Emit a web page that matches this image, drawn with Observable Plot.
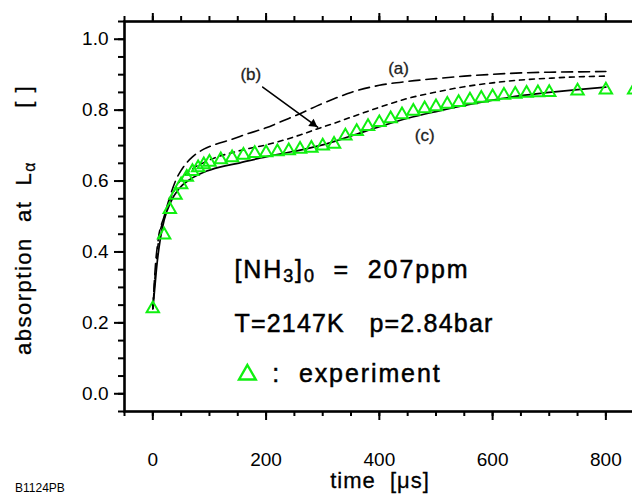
<!DOCTYPE html>
<html><head><meta charset="utf-8">
<script src="https://cdn.jsdelivr.net/npm/d3@7"></script>
<script src="https://cdn.jsdelivr.net/npm/@observablehq/plot@0.6"></script>
<style>
html,body{margin:0;padding:0;background:#fff;overflow:hidden;width:632px;height:494px;}
#chart{position:relative;width:632px;height:494px;overflow:hidden;}
#chart svg{max-width:none !important;width:680px;height:494px;display:block;}
svg text{white-space:pre;}
</style></head><body><div id="chart"></div>
<script>
// experiment (triangles)
const expTime = [0,20,30,40,50,60,70,80,90,100,120,140,160,180,200,220,240,260,280,300,320,340,360,380,400,420,440,460,480,500,520,540,560,580,600,620,640,660,680,700,750,800,850];
const expAbs  = [0.24,0.448,0.52,0.56,0.59,0.611,0.627,0.638,0.646,0.653,0.66,0.666,0.673,0.678,0.68,0.683,0.686,0.69,0.693,0.699,0.704,0.727,0.74,0.754,0.765,0.776,0.787,0.797,0.804,0.81,0.817,0.822,0.829,0.834,0.838,0.842,0.845,0.848,0.849,0.85,0.854,0.857,0.857];
// model (a) long dashes
const aTime = [0,5,10,20,30,40,50,60,70,90,110,140,170,200,230,260,290,320,350,400,450,500,550,600,650,700,750,800];
const aAbs  = [0.24,0.37,0.44,0.50,0.555,0.60,0.63,0.652,0.668,0.69,0.703,0.718,0.735,0.75,0.77,0.79,0.812,0.832,0.85,0.87,0.881,0.889,0.896,0.901,0.905,0.907,0.908,0.909];
// model (b) short dashes
const bTime = [0,5,10,20,30,40,50,60,75,90,110,140,170,200,230,260,290,320,350,400,450,500,550,600,650,700,750,800];
const bAbs  = [0.24,0.35,0.43,0.495,0.545,0.58,0.605,0.622,0.64,0.652,0.666,0.68,0.692,0.702,0.715,0.73,0.747,0.763,0.78,0.808,0.833,0.851,0.866,0.877,0.885,0.89,0.894,0.896];
// model (c) solid
const cTime = [0,3,7,13,20,32,46,67,90,120,150,190,250,300,350,400,450,500,550,600,650,700,750,800];
const cAbs  = [0.24,0.29,0.36,0.434,0.49,0.542,0.578,0.606,0.625,0.64,0.65,0.665,0.684,0.702,0.727,0.753,0.777,0.796,0.813,0.828,0.841,0.85,0.858,0.865];

const xMajorTicks = [0,200,400,600,800];
const xMinorTicks = [-50,0,50,100,150,200,250,300,350,400,450,500,550,600,650,700,750,800,850,900];
const yMajorTicks = [0,0.2,0.4,0.6,0.8,1.0];
const yMinorTicks = [-0.05,0,0.05,0.1,0.15,0.2,0.25,0.3,0.35,0.4,0.45,0.5,0.55,0.6,0.65,0.7,0.75,0.8,0.85,0.9,0.95,1.0,1.05];

const curveLabels = ["(a)","(b)","(c)"];
const curveLabelTime = [434,173,480];
const curveLabelAbs = [0.918,0.901,0.728];
const arrowFrom = [194,0.865];
const arrowTo = [291,0.752];
const arrowHeadAt = [283,0.761];

const legendSymbolAt = [167,0.054];
const infoLines = ["[NH3]0  =  207ppm","T=2147K   p=2.84bar",":  experiment"];

const toRows = (ts, vs) => ts.map((t,i)=>({t, v: vs[i]}));
const expData = toRows(expTime, expAbs);
const aData = toRows(aTime, aAbs);
const bData = toRows(bTime, bAbs);
const cData = toRows(cTime, cAbs);
const labelData = curveLabels.map((s,i)=>({s, t: curveLabelTime[i], v: curveLabelAbs[i]}));

const font = "'Liberation Sans', Arial, Helvetica, sans-serif";
const green = "#10f010";

const plot = Plot.plot({
  width: 680, height: 494,
  marginLeft: 124, marginRight: 18, marginTop: 21, marginBottom: 83,
  style: {fontFamily: font, fontSize: "19px", color: "#000", background: "#fff", overflow: "visible", maxWidth: "none"},
  x: {domain: [-50, 900]},
  y: {domain: [-0.05, 1.05]},
  marks: [
    Plot.axisX({anchor: "bottom", ticks: xMinorTicks, tickSize: 5, fill: "none", stroke: "#000", strokeWidth: 2, label: null}),
    Plot.axisX({anchor: "bottom", ticks: xMajorTicks, tickSize: 9, tickPadding: 32, stroke: "#000", fill: "#000", strokeWidth: 2, label: null, fontSize: 19}),
    Plot.axisX({anchor: "top", ticks: xMinorTicks, tickSize: 6, fill: "none", stroke: "#000", strokeWidth: 2, label: null}),
    Plot.axisX({anchor: "top", ticks: xMajorTicks, tickSize: 9, fill: "none", stroke: "#000", strokeWidth: 2, label: null}),
    Plot.axisY({anchor: "left", ticks: yMinorTicks, tickSize: 6, fill: "none", stroke: "#000", strokeWidth: 2, label: null}),
    Plot.axisY({anchor: "left", ticks: yMajorTicks, tickSize: 10, tickPadding: 6, tickFormat: d3.format(".1f"), stroke: "#000", fill: "#000", strokeWidth: 2, label: null, fontSize: 19}),
    Plot.frame({stroke: "#000", strokeWidth: 2.6}),
    Plot.line(aData, {x: "t", y: "v", stroke: "#000", strokeWidth: 1.6, strokeDasharray: "11,6", curve: "monotone-x"}),
    Plot.line(bData, {x: "t", y: "v", stroke: "#000", strokeWidth: 1.6, strokeDasharray: "5,5", curve: "monotone-x"}),
    Plot.line(cData, {x: "t", y: "v", stroke: "#000", strokeWidth: 1.7, curve: "monotone-x"}),
    Plot.dot(expData, {x: "t", y: "v", symbol: "triangle", r: 4.6, stroke: green, strokeWidth: 2, fill: "none"}),
    Plot.dot([legendSymbolAt], {x: d => d[0], y: d => d[1], symbol: "triangle", r: 6.2, stroke: green, strokeWidth: 2.4, fill: "none"}),
    Plot.arrow([{x1: arrowFrom[0], y1: arrowFrom[1], x2: arrowTo[0], y2: arrowTo[1]}], {x1: "x1", y1: "y1", x2: "x2", y2: "y2", stroke: "#000", strokeWidth: 1.6, headLength: 0}),
    Plot.dot([arrowHeadAt], {x: d => d[0], y: d => d[1], symbol: "triangle", r: 3.4, fill: "#000", stroke: "none", rotate: 126}),
    Plot.text(labelData, {x: "t", y: "v", text: "s", fontSize: 17, fill: "#222", stroke: "#222", strokeWidth: 0.3, fontWeight: "normal"})
  ]
});
plot.style.maxWidth = "none";
document.getElementById("chart").appendChild(plot);

const svg = d3.select(plot);
const sx = plot.scale("x"), sy = plot.scale("y");

function addText(x, y, size, parts, opts = {}) {
  const t = svg.append("text").attr("x", x).attr("y", y)
    .attr("font-family", font).attr("font-size", size).attr("fill", "#000")
    .attr("text-anchor", opts.anchor || "start")
    .style("white-space", "pre");
  if (opts.transform) t.attr("transform", opts.transform);
  if (opts.ls) t.attr("letter-spacing", opts.ls);
  if (opts.bold) t.attr("stroke", "#000").attr("stroke-width", opts.bold);
  for (const p of parts) {
    const s = t.append("tspan").text(p.s);
    if (p.sub) s.attr("baseline-shift", "-22%").attr("font-size", size * 0.72);
  }
  return t;
}
// info block
const infoX = sx.apply(145);
addText(infoX, sy.apply(0.324), 25, [{s: "[NH"}, {s: "3", sub: true}, {s: "]"}, {s: "0", sub: true}, {s: "  =  207ppm"}], {ls: 1.9, bold: 0.5});
addText(infoX, sy.apply(0.172), 25, [{s: infoLines[1]}], {ls: 1.2, bold: 0.5});
addText(sx.apply(212), sy.apply(0.031), 25, [{s: infoLines[2]}], {ls: 1.9, bold: 0.5});

// axis titles
addText(380, 488, 22, [{s: "time  [μs]"}], {anchor: "middle", ls: 1, bold: 0.3});
addText(0, 0, 22, [{s: "absorption  at  L"}, {s: "α", sub: true}, {s: "       [ ]"}], {transform: "translate(31,355) rotate(-90)", ls: 1.5, bold: 0.3});
addText(15, 492, 12, [{s: "B1124PB"}]);
</script></body></html>
